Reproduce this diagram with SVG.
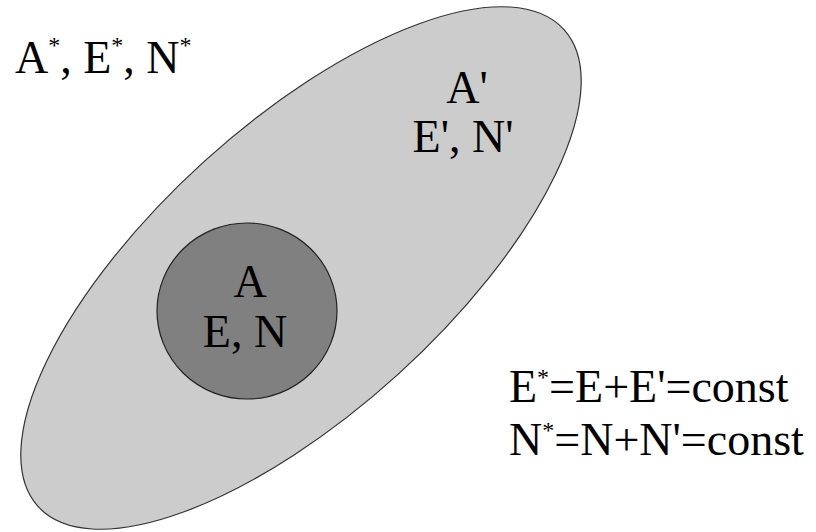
<svg xmlns="http://www.w3.org/2000/svg" width="816" height="532" viewBox="0 0 816 532">
<style>
text{font-family:'Liberation Serif','Times New Roman','DejaVu Serif',serif;font-size:46px;fill:#000}
.sup{font-size:24px}
.c{text-anchor:middle}
</style>
<rect width="816" height="532" fill="#fff"/>
<g id="outer">
<ellipse cx="301" cy="268" rx="355" ry="144" transform="rotate(-42.2 301 268)" fill="#cccccc" stroke="#333" stroke-width="1.2"/>
<text class="c" x="467" y="103">A'</text>
<text class="c" x="463" y="152">E', N'</text>
</g>
<g id="inner">
<ellipse cx="247" cy="311" rx="90" ry="88" fill="#808080" stroke="#222" stroke-width="1.2"/>
<text class="c" x="250" y="297">A</text>
<text class="c" x="245" y="347">E, N</text>
</g>
<g id="labels">
<text x="15" y="73" font-size="45">A<tspan class="sup" dy="-20">*</tspan><tspan dy="20">, E</tspan><tspan class="sup" dy="-20">*</tspan><tspan dy="20">, N</tspan><tspan class="sup" dy="-20">*</tspan></text>
<text x="509" y="402" font-size="46.5">E<tspan class="sup" dy="-17">*</tspan><tspan dy="17">=E+E'=const</tspan></text>
<text x="509" y="455" font-size="46.5">N<tspan class="sup" dy="-17">*</tspan><tspan dy="17">=N+N'=const</tspan></text>
</g>
<g id="connectors"/>
</svg>
